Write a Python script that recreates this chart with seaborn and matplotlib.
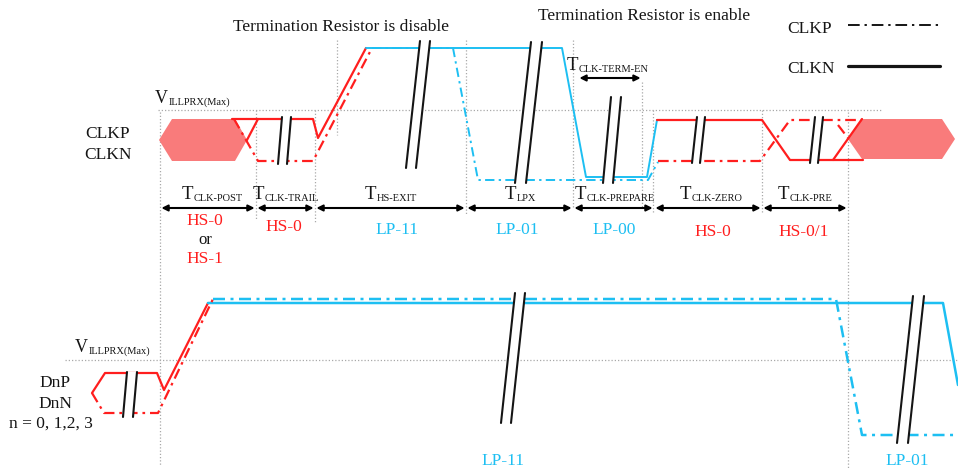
import numpy as np
import matplotlib
matplotlib.use("Agg")
import matplotlib.pyplot as plt
import seaborn as sns

# ---- colours
RED = "#FF1E1E"
CYAN = "#1DBFF2"
HEX_FILL = "#F97B7B"
INK = "#151515"
GRID = "#A9A9A9"

# ---- timing boundaries (top diagram) and interval labels
t_edges = [160, 256, 315, 466, 573, 654, 762, 848]
t_main = ["T", "T", "T", "T", "T", "T", "T"]
t_sub = ["CLK-POST", "CLK-TRAIL", "HS-EXIT", "LPX", "CLK-PREPARE", "CLK-ZERO", "CLK-PRE"]
t_label_left = [182, 253, 365, 505, 575, 680, 778]
state_text = ["HS-0", "HS-0", "LP-11", "LP-01", "LP-00", "HS-0", "HS-0/1"]
state_color = [RED, RED, CYAN, CYAN, CYAN, RED, RED]
state_center = [205, 284, 397, 517, 614, 713, 804]
state_base = [225, 231, 234, 234, 234, 236, 236]

# ---- signal levels / waveform vertices (top: clock lane)
hex_left_x = [159, 172, 235, 247, 235, 172]
hex_left_y = [140, 119, 119, 140, 161, 161]
hex_right_x = [848, 862, 942, 955, 942, 862]
hex_right_y = [139, 119, 119, 139, 159, 159]

clkn_red1_x = [232, 313, 318, 366]
clkn_red1_y = [119, 119, 138, 48]
clkn_cross1_x = [247, 258]
clkn_cross1_y = [140, 119]
clkn_cyan_x = [366, 562, 586, 647, 657]
clkn_cyan_y = [48, 48, 177, 177, 120]
clkn_red2_x = [657, 762, 790, 863]
clkn_red2_y = [120, 120, 160, 160]
clkn_cross2_x = [833, 862]
clkn_cross2_y = [160, 119]

clkp_red1_x = [234, 258, 313, 372]
clkp_red1_y = [119, 161, 161, 48]
clkp_cyan_x = [372, 453, 478, 648, 658]
clkp_cyan_y = [48, 48, 180, 180, 162]
clkp_red2_x = [658, 760, 790, 862]
clkp_red2_y = [161, 161, 120, 120]
clkp_cross2_x = [838, 848]
clkp_cross2_y = [125, 138]

# ---- waveform vertices (bottom: data lane)
dnn_red_x = [92, 105, 157, 164, 208]
dnn_red_y = [393, 373, 373, 390, 303]
dnn_cyan_x = [208, 943, 958]
dnn_cyan_y = [303, 303, 385]
dnp_red_x = [92, 104, 158, 213]
dnp_red_y = [393, 413, 413, 299]
dnp_cyan_x = [213, 836, 862, 958]
dnp_cyan_y = [299, 299, 435, 435]

# ---- break marks: top x, top y, bottom x, bottom y, spacing
brk_x0 = [282, 420, 531, 611, 697, 815, 127, 515, 913]
brk_y0 = [117, 41, 42, 97, 117, 117, 372, 293, 296]
brk_x1 = [278, 406, 515, 603, 692, 810, 123, 501, 897]
brk_y1 = [164, 168, 183, 183, 163, 163, 417, 423, 443]
brk_gap = [9, 10, 11, 10, 8, 8, 10, 10, 11]

# ---- dotted guides
vline_x = [160, 256, 315, 337, 466, 573, 642, 653, 762, 848]
vline_y0 = [112, 110, 110, 40, 40, 40, 82, 110, 110, 112]
vline_y1 = [465, 220, 222, 135, 215, 208, 207, 214, 214, 470]
hline_y = [110, 360]
hline_x0 = [158, 65]
hline_x1 = [882, 958]

DASHDOT = (0, (4.8, 2.2, 1.2, 2.2))

sns.set_theme(style="white")
plt.rcParams["font.family"] = ["Liberation Serif", "DejaVu Serif"]

fig = plt.figure(figsize=(9.58, 4.70), dpi=100)
ax = fig.add_axes([0, 0, 1, 1])
ax.set_xlim(0, 958)
ax.set_ylim(470, 0)
ax.axis("off")

# dotted guides
for x, y0, y1 in zip(vline_x, vline_y0, vline_y1):
    ax.plot([x, x], [y0, y1], color=GRID, lw=0.9, ls=(0, (1, 1.6)), zorder=1)
for y, x0, x1 in zip(hline_y, hline_x0, hline_x1):
    ax.plot([x0, x1], [y, y], color=GRID, lw=0.9, ls=(0, (1, 1.6)), zorder=1)

# hexagons (HS activity)
ax.fill(hex_left_x, hex_left_y, color=HEX_FILL, lw=0, zorder=2)
ax.fill(hex_right_x, hex_right_y, color=HEX_FILL, lw=0, zorder=2)


def wave(xs, ys, color, dashed=False, lw=1.6):
    kw = dict(ls=DASHDOT) if dashed else {}
    sns.lineplot(x=np.array(xs, float), y=np.array(ys, float), sort=False,
                 estimator=None, color=color, lw=lw, ax=ax, zorder=3, **kw)


# clock lane
wave(clkn_red1_x, clkn_red1_y, RED)
wave(clkn_cross1_x, clkn_cross1_y, RED)
wave(clkn_cyan_x, clkn_cyan_y, CYAN, lw=1.4)
wave(clkn_red2_x, clkn_red2_y, RED)
wave(clkn_cross2_x, clkn_cross2_y, RED)
wave(clkp_red1_x, clkp_red1_y, RED, dashed=True)
wave(clkp_cyan_x, clkp_cyan_y, CYAN, dashed=True, lw=1.4)
wave(clkp_red2_x, clkp_red2_y, RED, dashed=True)
wave(clkp_cross2_x, clkp_cross2_y, RED, dashed=True)

# data lane
wave(dnn_red_x, dnn_red_y, RED)
wave(dnn_cyan_x, dnn_cyan_y, CYAN, lw=1.8)
wave(dnp_red_x, dnp_red_y, RED, dashed=True)
wave(dnp_cyan_x, dnp_cyan_y, CYAN, dashed=True, lw=1.8)

# break marks
for x0, y0, x1, y1, g in zip(brk_x0, brk_y0, brk_x1, brk_y1, brk_gap):
    ax.fill([x0, x0 + g, x1 + g, x1], [y0, y0, y1, y1], color="white", lw=0, zorder=4)
    for dx in (0, g):
        ax.plot([x0 + dx, x1 + dx], [y0, y1], color=INK, lw=1.5, zorder=5,
                solid_capstyle="round")

# interval arrows
arrow_kw = dict(arrowstyle="<|-|>", color="black", lw=1.5, mutation_scale=9,
                shrinkA=1, shrinkB=1)
for a, b in zip(t_edges[:-1], t_edges[1:]):
    ax.annotate("", xy=(b, 208), xytext=(a, 208), arrowprops=arrow_kw, zorder=5)
ax.annotate("", xy=(642, 78), xytext=(578, 78), arrowprops=arrow_kw, zorder=5)


def sub_label(x, y, main, sub, size=13.5, subsize=7.5):
    t = ax.text(x, y, main, ha="left", va="baseline", fontsize=size, color=INK)
    ax.annotate(sub, xy=(1, 0), xycoords=t, xytext=(0.3, 0), textcoords="offset points",
                ha="left", va="bottom", fontsize=subsize, color=INK)


for left, m, s in zip(t_label_left, t_main, t_sub):
    sub_label(left, 199, m, s)
sub_label(567, 70, "T", "CLK-TERM-EN")
sub_label(155, 103, "V", "ILLPRX(Max)", size=13)
sub_label(75, 352, "V", "ILLPRX(Max)", size=13)

for txt, c, xc, yb in zip(state_text, state_color, state_center, state_base):
    ax.text(xc, yb, txt, ha="center", va="baseline", fontsize=12.5, color=c)
ax.text(205, 244, "or", ha="center", va="baseline", fontsize=12, color=INK)
ax.text(205, 263, "HS-1", ha="center", va="baseline", fontsize=12.5, color=RED)
ax.text(503, 465, "LP-11", ha="center", va="baseline", fontsize=12.5, color=CYAN)
ax.text(907, 465, "LP-01", ha="center", va="baseline", fontsize=12.5, color=CYAN)

ax.text(341, 31, "Termination Resistor is disable", ha="center", va="baseline",
        fontsize=12.5, color=INK)
ax.text(644, 20, "Termination Resistor is enable", ha="center", va="baseline",
        fontsize=12.5, color=INK)

# legend
ax.text(787, 33, "CLKP", ha="left", va="baseline", fontsize=12.5, color=INK)
ax.text(787, 73, "CLKN", ha="left", va="baseline", fontsize=12.5, color=INK)
ax.plot([848, 940], [25, 25], color=INK, lw=1.4, ls=(0, (6, 2.5, 1.2, 2.5)))
ax.plot([848, 940], [66, 66], color=INK, lw=2.3)

# lane names
ax.text(108, 138, "CLKP", ha="center", va="baseline", fontsize=12.5, color=INK)
ax.text(108, 159, "CLKN", ha="center", va="baseline", fontsize=12.5, color=INK)
ax.text(55, 387, "DnP", ha="center", va="baseline", fontsize=12.5, color=INK)
ax.text(55, 408, "DnN", ha="center", va="baseline", fontsize=12.5, color=INK)
ax.text(51, 428, "n = 0, 1,2, 3", ha="center", va="baseline", fontsize=12.5, color=INK)

fig.savefig("out.png", dpi=100)
